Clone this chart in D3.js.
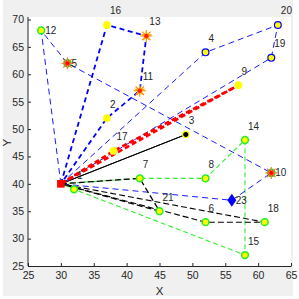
<!DOCTYPE html>
<html><head><meta charset="utf-8">
<script src="https://cdn.jsdelivr.net/npm/d3@7"></script>
<style>body{margin:0;background:#fff}svg{display:block}text{font-family:"Liberation Sans",Arial,sans-serif}</style>
</head><body>
<svg id="c" width="299" height="299"></svg>
<script>
// ---- data ----
const nodeIds   = [0, 1, 2, 3, 4, 5, 6, 7, 8, 9, 10, 11, 12, 13, 14, 15, 16, 17, 18, 19, 20, 21, 23];
const nodeX     = [30,32,37,49,52,31,52,42,52,57, 62, 42, 27, 43, 58, 58, 37, 38, 61, 62, 63, 45, 56];
const nodeY     = [40,39,52,49,64,62,33,41,41,58, 42, 57, 68, 67, 48, 27, 69, 46, 33, 63, 69, 35, 37];
const nodeKind  = ["depot","green","plain","black","blue","starGreen","green","green","green","plain",
                   "starGreen","star","green","star","green","green","plain","plain","green","blue","blue","green","diamond"];
const sideLabelIds = [5, 10, 12, 23];
const routeThinBlueA  = [0, 12, 5, 10, 23, 0];
const routeThickBlue  = [0, 16, 13, 11, 2, 0];
const routeThinBlueB  = [0, 4, 20, 19, 0];
const routeRed        = [0, 17, 9, 0];
const routeBlackSolid = [0, 3, 0];
const routeBlackA     = [0, 7, 21, 0];
const routeBlackB     = [0, 6, 18, 0];
const routeGreen      = [0, 7, 8, 14, 15, 1, 0];
const xTicks = [25, 30, 35, 40, 45, 50, 55, 60, 65];
const yTicks = [25, 30, 35, 40, 45, 50, 55, 60, 65, 70];
const xTitle = "X", yTitle = "Y";

// ---- layout ----
const svg = d3.select("#c");
const L = 28, R = 291, T = 19.5, B = 266;
const x = d3.scaleLinear().domain([25, 65]).range([L, R]);
const y = d3.scaleLinear().domain([25, 70]).range([B, T]);

svg.append("rect").attr("x",3).attr("y",0).attr("width",290).attr("height",296).attr("fill","#f0f0f0");
svg.append("rect").attr("x",L).attr("y",17).attr("width",R-L).attr("height",B-17).attr("fill","#fff");

const xa = svg.append("g").attr("transform",`translate(0,${B})`)
  .call(d3.axisBottom(x).tickValues(xTicks).tickSizeInner(-3).tickSizeOuter(0).tickPadding(6));
const ya = svg.append("g").attr("transform",`translate(${L},0)`)
  .call(d3.axisLeft(y).tickValues(yTicks).tickSizeInner(-3).tickSizeOuter(0).tickPadding(4));
[xa, ya].forEach(g => {
  g.select(".domain").attr("stroke","#262626").attr("stroke-width",1);
  g.selectAll(".tick line").attr("stroke","#262626");
  g.selectAll(".tick text").attr("fill","#262626").attr("font-size","10.5px")
    .attr("font-family","'Liberation Sans',Arial,sans-serif");
});
ya.select(".domain").attr("d", `M0,${B}V17`);
svg.append("text").attr("x",(L+R)/2).attr("y",295).attr("text-anchor","middle")
  .attr("font-size","11.5px").attr("fill","#262626").text(xTitle);
svg.append("text").attr("transform",`translate(11,${(T+B)/2}) rotate(-90)`).attr("text-anchor","middle")
  .attr("font-size","11.5px").attr("fill","#262626").text(yTitle);

// ---- routes ----
const pos = id => { const i = nodeIds.indexOf(id); return [x(nodeX[i]), y(nodeY[i])]; };
const line = d3.line();
function route(ids, color, w, dash) {
  svg.append("path").attr("d", line(ids.map(pos))).attr("fill","none")
    .attr("stroke",color).attr("stroke-width",w).attr("stroke-dasharray",dash)
    .attr("stroke-linejoin","round");
}
route(routeGreen, "#33ee33", 1.1, "5,3");
route(routeThinBlueA, "#0000ff", 0.9, "6,4");
route(routeThinBlueB, "#0000ff", 0.9, "6,4");
route(routeThickBlue, "#0000ff", 1.8, "5,3.5");
route(routeBlackA, "#000", 1.3, "6,3");
route(routeBlackB, "#000", 1.1, "6,3");
route(routeBlackSolid, "#000", 1, null);
route(routeRed, "#ff0000", 2.6, "5,3");

// ---- markers ----
function spokes(g, r, color) {
  for (let k = 0; k < 4; k++) {
    const a = k * Math.PI / 4;
    g.append("line").attr("x1",-r*Math.cos(a)).attr("y1",-r*Math.sin(a))
      .attr("x2",r*Math.cos(a)).attr("y2",r*Math.sin(a))
      .attr("stroke",color).attr("stroke-width",1.2);
  }
}
nodeIds.forEach((id, i) => {
  const [px, py] = pos(id);
  const g = svg.append("g").attr("transform",`translate(${px},${py})`);
  const k = nodeKind[i];
  if (k === "depot") {
    g.append("rect").attr("x",-3.8).attr("y",-3.8).attr("width",7.6).attr("height",7.6).attr("fill","#ff0000");
  } else if (k === "plain") {
    g.append("circle").attr("r",3.9).attr("fill","#ffff00");
  } else if (k === "green") {
    g.append("circle").attr("r",3.4).attr("fill","#ffff00").attr("stroke","#22ee22").attr("stroke-width",1.5);
  } else if (k === "blue") {
    g.append("circle").attr("r",3.4).attr("fill","#ffff00").attr("stroke","#0000ff").attr("stroke-width",1.2);
  } else if (k === "black") {
    g.append("circle").attr("r",3.2).attr("fill","#000").attr("stroke","#ffff00").attr("stroke-width",1.2);
  } else if (k === "diamond") {
    g.append("path").attr("d","M0,-6.5L4.5,0L0,6.5L-4.5,0Z").attr("fill","#0000ff");
  } else if (k === "star") {
    spokes(g, 6, "#ff8c1a");
    g.append("path").attr("d", d3.symbol(d3.symbolStar, 40)()).attr("fill","#ffaa00");
    g.append("circle").attr("r",2.2).attr("fill","#ff2200");
  } else if (k === "starGreen") {
    g.append("circle").attr("r",3.6).attr("fill","#ff2200").attr("stroke","#22dd22").attr("stroke-width",1.4);
    spokes(g, 6, "#ff7733");
    g.append("circle").attr("r",1.8).attr("fill","#ff0000");
  }
});

// ---- labels ----
nodeIds.forEach((id, i) => {
  if (id === 0) return;
  const [px, py] = pos(id);
  const side = sideLabelIds.includes(id);
  svg.append("text").attr("x", px + (side ? 4 : 3)).attr("y", py + (side ? 0 : -14)).attr("dy","0.35em")
    .attr("font-size","10px").attr("fill","#262626").text(id);
});
</script>
</body></html>
